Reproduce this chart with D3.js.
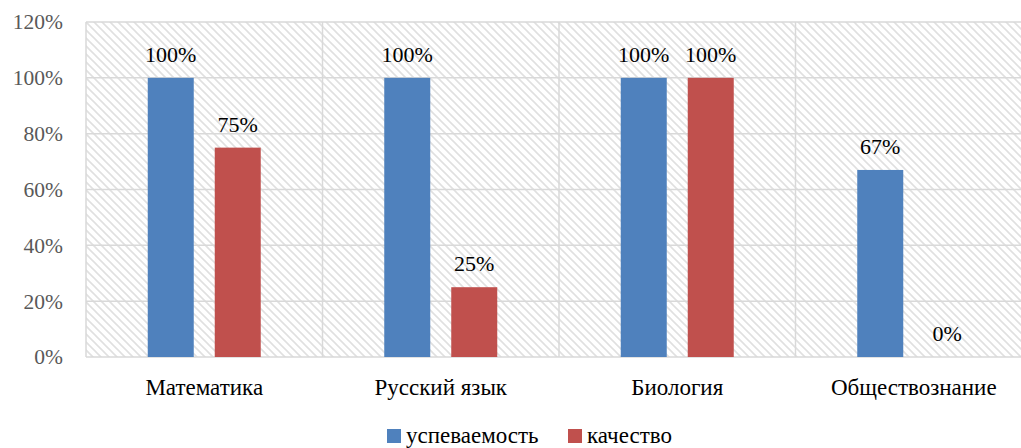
<!DOCTYPE html>
<html><head><meta charset="utf-8">
<script src="https://cdn.jsdelivr.net/npm/d3@7"></script>
<style>html,body{margin:0;padding:0;background:#fff;overflow:hidden}</style>
</head><body>
<svg id="c" width="1021" height="448"></svg>
<script>
const categories = ["Математика", "Русский язык", "Биология", "Обществознание"];
const seriesNames = ["успеваемость", "качество"];
const uspevaemost = [100, 100, 100, 67];
const kachestvo = [75, 25, 100, 0];
const yTicks = [0, 20, 40, 60, 80, 100, 120];
const colors = ["#4F81BD", "#C0504D"];

(function(){
const svg = d3.select("#c");
const FF = '"Liberation Serif"';
const pL = 86, pR = 1032, pT = 22, pB = 357;

const defs = svg.append("defs");
const pat = defs.append("pattern").attr("id","hatch").attr("patternUnits","userSpaceOnUse")
  .attr("width",8).attr("height",8);
pat.append("path").attr("d","M-2,-2 L10,10 M-2,6 L2,10 M6,-2 L10,2")
  .attr("stroke","#e0e0e0").attr("stroke-width",1.6);

const x = d3.scaleBand().domain(categories).range([pL, pR]).padding(0);
const xs = d3.scaleBand().domain(seriesNames).range([0, 113]).paddingInner(0.3134);
const y = d3.scaleLinear().domain([0,120]).range([pB, pT]);

svg.append("rect").attr("x",pL).attr("y",pT).attr("width",pR-pL).attr("height",pB-pT)
  .attr("fill","url(#hatch)");

svg.append("g").selectAll("line").data(yTicks).join("line")
  .attr("x1",pL).attr("x2",pR).attr("y1",d=>y(d)).attr("y2",d=>y(d))
  .attr("stroke","#d9d9d9").attr("stroke-width",1.5);
const bounds = categories.map(c=>x(c)).concat([pR]);
svg.append("g").selectAll("line").data(bounds).join("line")
  .attr("x1",d=>d).attr("x2",d=>d).attr("y1",pT).attr("y2",pB)
  .attr("stroke","#d9d9d9").attr("stroke-width",1.5);

const yAxis = d3.axisLeft(y).tickValues(yTicks).tickFormat(d=>d+"%").tickSize(0).tickPadding(23);
const gy = svg.append("g").attr("transform",`translate(${pL},0)`).call(yAxis);
gy.select(".domain").remove();
gy.selectAll("text").style("font-family",FF).style("font-size","21.5px").attr("fill","#595959");

const xAxis = d3.axisBottom(x).tickSize(0).tickPadding(22);
const gx = svg.append("g").attr("transform",`translate(0,${pB})`).call(xAxis);
gx.select(".domain").remove();
gx.selectAll("text").style("font-family",FF).style("font-size","23px").attr("fill","#000");

const data = [];
categories.forEach((c,i)=>{
  data.push({c, s:seriesNames[0], v:uspevaemost[i], col:colors[0]});
  data.push({c, s:seriesNames[1], v:kachestvo[i], col:colors[1]});
});
const gx0 = c => x(c) + x.bandwidth()/2 - 56.5;
svg.append("g").selectAll("rect").data(data).join("rect")
  .attr("x",d=>gx0(d.c)+xs(d.s)).attr("width",xs.bandwidth())
  .attr("y",d=>y(d.v)).attr("height",d=>y(0)-y(d.v)).attr("fill",d=>d.col);
svg.append("g").selectAll("text").data(data).join("text")
  .attr("x",d=>gx0(d.c)+xs(d.s)+xs.bandwidth()/2).attr("y",d=>y(d.v)-16)
  .attr("text-anchor","middle").style("font-family",FF).style("font-size","22px").attr("fill","#000")
  .text(d=>d.v+"%");

const leg = svg.append("g");
const items = [{n:seriesNames[0], c:colors[0], x:387},{n:seriesNames[1], c:colors[1], x:568}];
items.forEach(it=>{
  leg.append("rect").attr("x",it.x).attr("y",429).attr("width",14).attr("height",14).attr("fill",it.c);
  leg.append("text").attr("x",it.x+19).attr("y",443).style("font-family",FF).style("font-size","23px")
    .attr("fill","#000").text(it.n);
});
})();
</script>
</body></html>
